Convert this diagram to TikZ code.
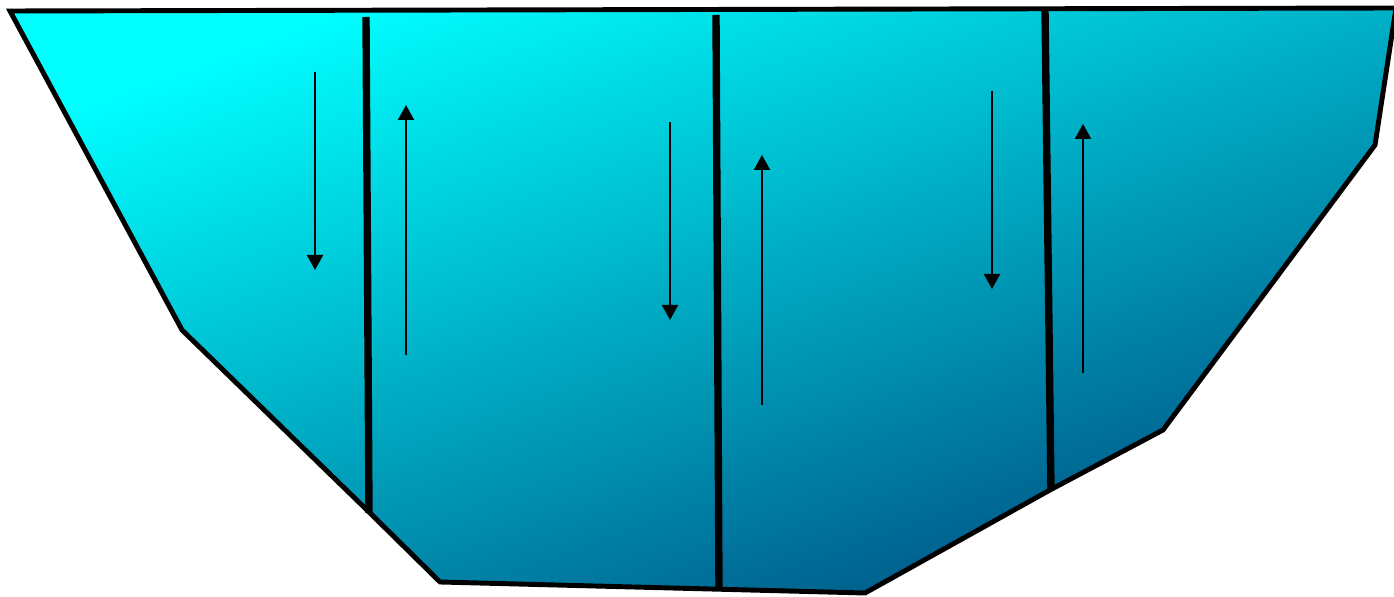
\documentclass[tikz,border=0pt]{standalone}
\usetikzlibrary{arrows.meta}
\definecolor{ccyan}{HTML}{00FFFF}
\definecolor{cmid}{HTML}{00D0DA}
\definecolor{cdeep}{HTML}{005284}
\tikzset{
  basin/.style={draw=black, line width=2.8pt, line join=miter, top color=ccyan, middle color=cmid, bottom color=cdeep, shading angle=20},
  baffle/.style={draw=black, line width=4.2pt},
  flow/.style={-{Triangle[length=3mm, width=3.2mm]}, draw=black, line width=1.1pt},
}

\begin{document}
\begin{tikzpicture}[x=0.02cm, y=-0.02cm]
  \useasboundingbox (0,0) rectangle (1394,597);
  % basin outline, shaded from top left to bottom right
  \shade[basin] (10,11) -- (1396,8) -- (1375,145) -- (1163,430) -- (1050,490)
    -- (865,593) -- (440,582) -- (370,513) -- (182,330) -- cycle;
  % baffle walls
  \draw[baffle] (366,17) -- (369,513);
  \draw[baffle] (716,15) -- (719,590);
  \draw[baffle] (1045,10) -- (1051,490);
  % flow direction, down then up round each wall
  \foreach \x/\a/\b in {315/72/270, 406/355/105, 670/122/320, 762/405/155, 992/91/289, 1083/373/124}
    \draw[flow] (\x,\a) -- (\x,\b);
\end{tikzpicture}
\end{document}
